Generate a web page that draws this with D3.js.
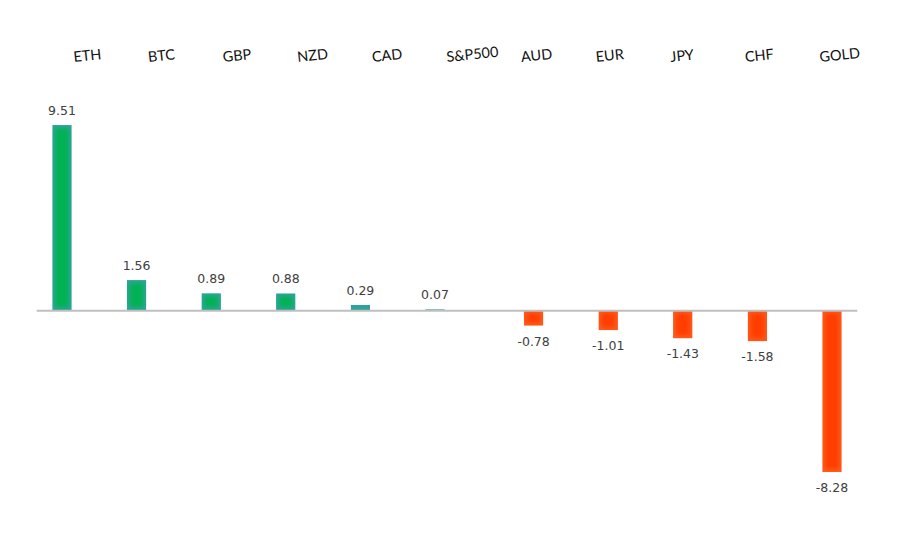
<!DOCTYPE html>
<html>
<head>
<meta charset="utf-8">
<script src="https://cdn.jsdelivr.net/npm/d3@7"></script>
<style>
  body { margin: 0; background: #fff; }
</style>
</head>
<body>
<script>
const width = 914;
const height = 538;

const categories = ["ETH", "BTC", "GBP", "NZD", "CAD", "S&P500", "AUD", "EUR", "JPY", "CHF", "GOLD"];
const values = [9.51, 1.56, 0.89, 0.88, 0.29, 0.07, -0.78, -1.01, -1.43, -1.58, -8.28];

const svg = d3.select("body")
  .append("svg")
  .attr("width", width)
  .attr("height", height);

const x = d3.scaleBand().domain(categories).range([36.7, 857.3]).padding(0);
const y = d3.scaleLinear().domain([-10, 10]).range([505.5, 115.5]);

const barW = 19.5;
const offset = 12; // positive series sits left of centre, negative right
const cx = (d, i) => x(categories[i]) + x.bandwidth() / 2 + (d >= 0 ? -offset : offset);
const barTop = d => y(Math.max(d, 0));
const barLen = d => Math.abs(y(d) - y(0));

const defs = svg.append("defs");
defs.append("filter")
  .attr("id", "soft")
  .attr("x", "-50%").attr("y", "-50%").attr("width", "200%").attr("height", "200%")
  .append("feGaussianBlur")
  .attr("stdDeviation", 2.2);

values.forEach((d, i) => {
  defs.append("clipPath").attr("id", "clip" + i)
    .append("rect")
    .attr("x", cx(d, i) - barW / 2)
    .attr("y", barTop(d))
    .attr("width", barW)
    .attr("height", barLen(d));
});

const data = values.map((v, i) => ({ v, i }));

const bars = svg.append("g").selectAll("g")
  .data(data)
  .join("g")
  .attr("clip-path", d => `url(#clip${d.i})`);

// edge colour
bars.append("rect")
  .attr("x", d => cx(d.v, d.i) - barW / 2)
  .attr("y", d => barTop(d.v))
  .attr("width", barW)
  .attr("height", d => barLen(d.v))
  .attr("fill", d => d.v >= 0 ? "#2fa39a" : "#ff5a1c");

// bright centre
const inset = 3;
bars.filter(d => barLen(d.v) > inset * 2 + 1)
  .append("rect")
  .attr("x", d => cx(d.v, d.i) - barW / 2 + inset)
  .attr("y", d => barTop(d.v) + inset)
  .attr("width", barW - inset * 2)
  .attr("height", d => barLen(d.v) - inset * 2)
  .attr("fill", d => d.v >= 0 ? "#00b252" : "#ff3c00")
  .attr("filter", "url(#soft)");

// zero line
svg.append("line")
  .attr("x1", 36.7).attr("x2", 857.3)
  .attr("y1", y(0) + 0.3).attr("y2", y(0) + 0.3)
  .attr("stroke", "#bfbfbf")
  .attr("stroke-width", 2);

// value labels
svg.append("g").selectAll("text")
  .data(data)
  .join("text")
  .attr("x", d => cx(d.v, d.i))
  .attr("y", d => d.v >= 0 ? y(d.v) - 10 : y(d.v) + 20)
  .attr("text-anchor", "middle")
  .attr("font-family", "DejaVu Sans, sans-serif")
  .attr("font-size", 12.5)
  .attr("fill", "#404040")
  .text(d => d.v.toFixed(2));

// category labels along the top, slightly tilted
svg.append("g").selectAll("text")
  .data(categories)
  .join("text")
  .attr("transform", d => `translate(${x(d) + x.bandwidth() / 2},62) rotate(-6)`)
  .attr("font-family", "Lato, 'Open Sans', sans-serif")
  .attr("font-size", 14.5)
  .attr("fill", "#111")
  .text(d => d);
</script>
</body>
</html>
